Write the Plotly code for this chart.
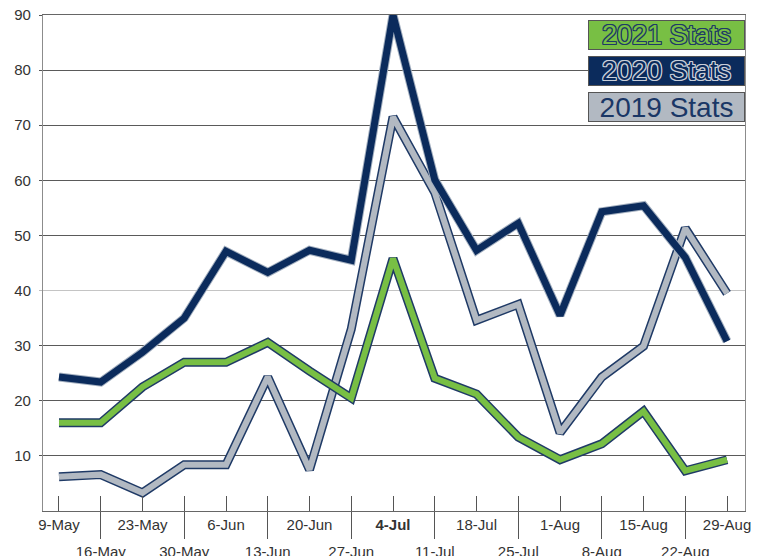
import plotly.graph_objects as go

weeks = ["9-May", "16-May", "23-May", "30-May", "6-Jun", "13-Jun", "20-Jun", "27-Jun",
         "4-Jul", "11-Jul", "18-Jul", "25-Jul", "1-Aug", "8-Aug", "15-Aug", "22-Aug", "29-Aug"]
stats_2021 = [16, 16, 22.5, 27, 27, 30.6, 25.4, 20.5, 45.8, 24.1, 21.2, 13.4, 9.3, 12.2, 18.1, 7.3, 9.3]
stats_2020 = [24.3, 23.4, 28.8, 35, 47.1, 43.3, 47.3, 45.5, 90, 60.1, 47.3, 52.2, 35.5, 54.3, 55.4, 46, 30.8]
stats_2019 = [6.2, 6.6, 3.3, 8.4, 8.4, 24.3, 7.5, 33, 71.5, 57.8, 34.6, 37.5, 14.2, 24.3, 29.9, 51.3, 39.5]
series_names = ["2021 Stats", "2020 Stats", "2019 Stats"]
y_ticks_dark = [10, 20, 30, 50, 60, 70, 80, 90]
y_ticks_light = [40]
top_row_labels = [w if i % 2 == 0 else "" for i, w in enumerate(weeks)]
top_row_labels = ["<b>4-Jul</b>" if w == "4-Jul" else w for w in top_row_labels]
bottom_row_weeks = weeks[1::2]

NAVY = "#0b2b5c"
GREEN = "#78bf44"
GRAY = "#b2b9c2"
OUTLINE = "#1f3a66"

fig = go.Figure()

# draw order: 2019 (bottom), 2020, 2021 (top)
styles = [
    (stats_2019, GRAY, OUTLINE, 6, 9),
    (stats_2020, NAVY, "#a3afbf", 7, 9),
    (stats_2021, GREEN, OUTLINE, 6, 9),
]
for vals, inner, outer, wi, wo in styles:
    fig.add_trace(go.Scatter(x=weeks, y=vals, mode="lines",
                             line=dict(color=outer, width=wo),
                             showlegend=False, hoverinfo="skip"))
    fig.add_trace(go.Scatter(x=weeks, y=vals, mode="lines",
                             line=dict(color=inner, width=wi),
                             showlegend=False))

# helper invisible trace for secondary axes
fig.add_trace(go.Scatter(x=weeks, y=[None] * len(weeks), xaxis="x2", yaxis="y2",
                         showlegend=False, hoverinfo="skip"))

xr = [-0.383, 16.43]
font = "Liberation Sans, Arial, sans-serif"
tf = dict(size=15, color="#333333", family=font)

# page body has an 8px default margin, so the figure is sized to fit the window
fig.update_layout(
    width=751, height=548,
    margin=dict(l=35, r=14, t=7, b=45),
    paper_bgcolor="white", plot_bgcolor="white",
    showlegend=False,
    font=dict(family=font, size=15, color="#333333"),
    xaxis=dict(type="category", categoryarray=weeks, range=xr, automargin=False,
               tickvals=weeks, ticktext=top_row_labels, ticklabeloverflow="allow",
               ticks="inside", ticklen=15, tickwidth=1.3, tickcolor="#555555",
               showline=True, linecolor="#666666", linewidth=1.3, mirror=True,
               showgrid=False, tickfont=tf),
    xaxis2=dict(type="category", categoryarray=weeks, range=xr, automargin=False,
                overlaying="x", anchor="y", side="bottom", ticklabeloverflow="allow",
                tickvals=bottom_row_weeks, ticktext=bottom_row_weeks,
                ticks="outside", ticklen=27, tickwidth=1.3, tickcolor="#555555",
                showline=False, showgrid=False, tickfont=tf),
    yaxis=dict(range=[0, 90], tickvals=y_ticks_dark, ticks="outside", ticklen=3,
               automargin=False, ticklabelstandoff=5, ticklabeloverflow="allow",
               tickcolor="#555555", showgrid=True, gridcolor="#5a5a5a", gridwidth=1.3,
               showline=True, linecolor="#8c8c8c", linewidth=1.3, mirror=True,
               zeroline=False, tickfont=tf),
    yaxis2=dict(range=[0, 90], overlaying="y", anchor="x", side="left", automargin=False,
                ticklabelstandoff=5, ticklabeloverflow="allow",
                tickvals=y_ticks_light, ticks="outside", ticklen=3, tickcolor="#bbbbbb",
                showgrid=True, gridcolor="#c4c4c4", gridwidth=1,
                showline=False, zeroline=False, tickfont=tf),
)

def outline(c):
    return ", ".join(f"{dx}px {dy}px 0 {c}" for dx, dy in
                     [(-1, -1), (1, -1), (-1, 1), (1, 1), (0, 1), (1, 0), (0, -1), (-1, 0)])

legend_specs = [
    (series_names[0], 0.9597, GREEN, dict(size=27, color=GREEN, shadow=outline(OUTLINE))),
    (series_names[1], 0.887, NAVY, dict(size=27, color=NAVY, shadow=outline("#c8ced8"))),
    (series_names[2], 0.8155, GRAY, dict(size=28, color="#1a3766", shadow="none")),
]
for txt, yy, bg, f in legend_specs:
    f = dict(f, family=font)
    fig.add_annotation(xref="paper", yref="paper", x=0.8885, y=yy,
                       xanchor="center", yanchor="middle", text=txt, showarrow=False,
                       width=155, height=28, bgcolor=bg, bordercolor="#555555",
                       borderwidth=1, borderpad=0, font=f, align="center")

fig.write_html("out.html")
